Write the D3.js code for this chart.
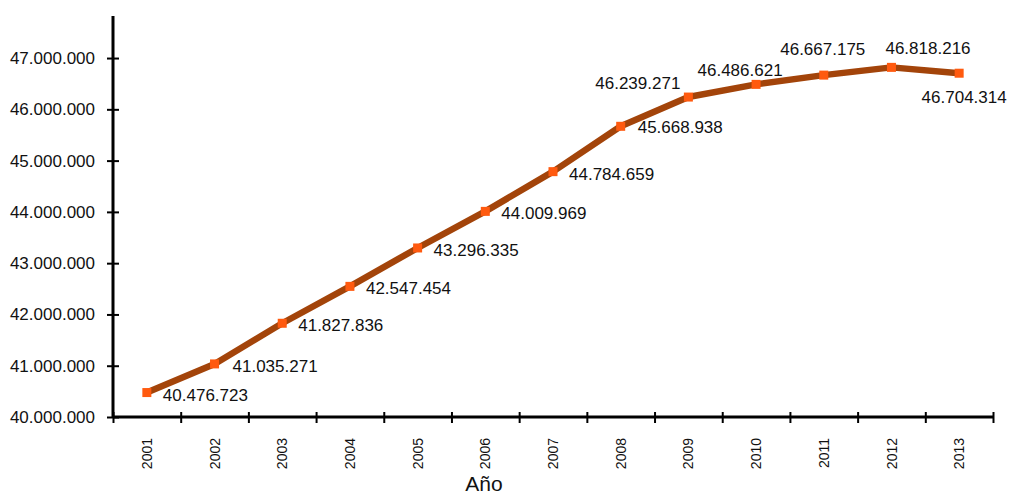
<!DOCTYPE html>
<html>
<head>
<meta charset="utf-8">
<script src="https://cdn.jsdelivr.net/npm/d3@7"></script>
<style>
  html, body { margin: 0; padding: 0; background: #fff; }
  svg { display: block; font-family: "Liberation Sans", Arial, sans-serif; }
</style>
</head>
<body>
<svg id="chart" width="1010" height="495"></svg>
<script>
// Population by year
const years = ["2001", "2002", "2003", "2004", "2005", "2006", "2007",
               "2008", "2009", "2010", "2011", "2012", "2013"];
const population = [40476723, 41035271, 41827836, 42547454, 43296335, 44009969,
                    44784659, 45668938, 46239271, 46486621, 46667175, 46818216, 46704314];
const yTicks = [40000000, 41000000, 42000000, 43000000, 44000000, 45000000, 46000000, 47000000];
const xTitle = "Año";

// Where each value label sits relative to its point: [anchor, dx, dy]
const labelPlacement = [
  ["start", 16, 8], ["start", 18, 8], ["start", 16, 8], ["start", 16, 8],
  ["start", 16, 8], ["start", 16, 8], ["start", 16, 8], ["start", 17, 7],
  ["end", -8, -8], ["middle", -16, -8], ["middle", -1, -20], ["start", -6, -13],
  ["middle", 5, 30]
];

const fmt = v => d3.format(",")(v).replace(/,/g, ".");

const svg = d3.select("#chart");
const plot = { left: 113, right: 993, bottom: 417, top: 16 };

const x = d3.scaleBand().domain(years).range([plot.left, plot.right]).padding(0);
const y = d3.scaleLinear().domain([40000000, 47820000]).range([plot.bottom, plot.top]);
const edge = d3.scaleLinear().domain([0, years.length]).range([plot.left, plot.right]);

const ink = "#111";

// Y axis
const yAxis = svg.append("g")
  .attr("transform", `translate(${plot.left},0)`)
  .call(d3.axisLeft(y).tickValues(yTicks).tickSize(6).tickPadding(12).tickFormat(fmt));
yAxis.select(".domain").attr("stroke", "#000").attr("stroke-width", 3)
  .attr("d", `M0,${plot.top}V${plot.bottom}`);
yAxis.selectAll(".tick line").attr("x1", -6).attr("x2", 6)
  .attr("stroke", "#000").attr("stroke-width", 2);
yAxis.selectAll(".tick text").attr("font-size", 17).attr("fill", ink)
  .attr("font-family", "Liberation Sans, Arial, sans-serif");

// X axis with ticks on category boundaries
const xAxis = svg.append("g")
  .attr("transform", `translate(0,${plot.bottom})`)
  .call(d3.axisBottom(edge).tickValues(d3.range(years.length + 1)).tickSize(5).tickFormat(""));
xAxis.select(".domain").attr("stroke", "#000").attr("stroke-width", 3)
  .attr("d", `M${plot.left},0H${plot.right}`);
xAxis.selectAll(".tick line").attr("y1", -5).attr("y2", 6)
  .attr("stroke", "#000").attr("stroke-width", 2);

// Year labels, rotated
svg.append("g").selectAll("text")
  .data(years)
  .join("text")
  .attr("transform", d => `translate(${x(d) + x.bandwidth() / 2},438) rotate(-90)`)
  .attr("text-anchor", "end")
  .attr("dy", "0.36em")
  .attr("font-size", 14)
  .attr("fill", ink)
  .text(d => d);

// Axis title
svg.append("text")
  .attr("x", 484).attr("y", 491)
  .attr("text-anchor", "middle")
  .attr("font-size", 21)
  .attr("fill", ink)
  .text(xTitle);

const points = years.map((yr, i) => ({ year: yr, value: population[i], place: labelPlacement[i] }));
const cx = d => x(d.year) + x.bandwidth() / 2;

// Line
svg.append("path")
  .datum(points)
  .attr("fill", "none")
  .attr("stroke", "#A3440A")
  .attr("stroke-width", 6.5)
  .attr("stroke-linejoin", "round")
  .attr("d", d3.line().x(cx).y(d => y(d.value)));

// Markers
svg.append("g").selectAll("rect")
  .data(points)
  .join("rect")
  .attr("x", d => cx(d) - 4.5)
  .attr("y", d => y(d.value) - 4.5)
  .attr("width", 9).attr("height", 9)
  .attr("fill", "#FF5A0F");

// Value labels
svg.append("g").selectAll("text")
  .data(points)
  .join("text")
  .attr("x", d => cx(d) + d.place[1])
  .attr("y", d => y(d.value) + d.place[2])
  .attr("text-anchor", d => d.place[0])
  .attr("font-size", 17)
  .attr("fill", ink)
  .text(d => fmt(d.value));
</script>
</body>
</html>
